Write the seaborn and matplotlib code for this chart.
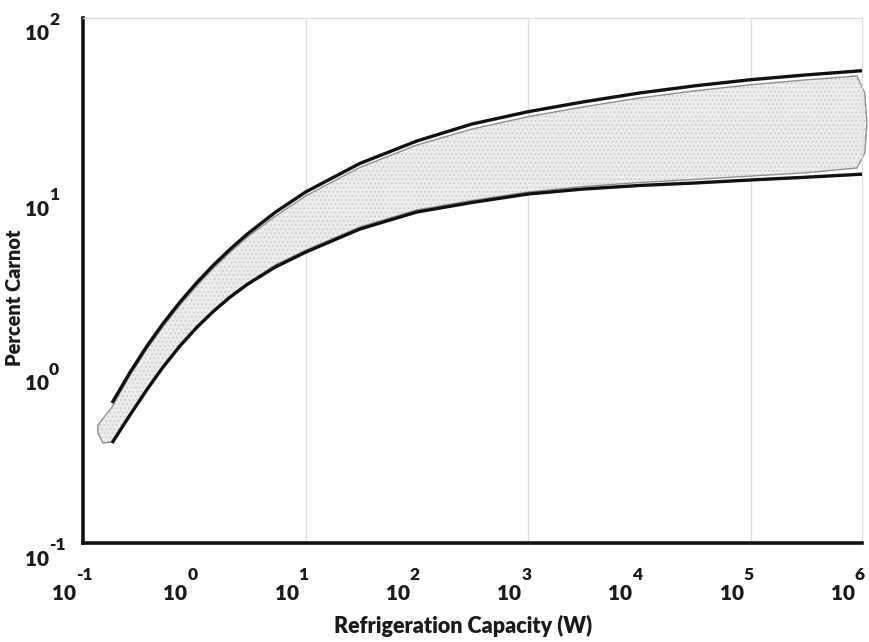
import numpy as np
import pandas as pd
import matplotlib
matplotlib.use("Agg")
import matplotlib.pyplot as plt
import seaborn as sns
from matplotlib.transforms import blended_transform_factory

# ---------------- data ----------------
curve_x = [0.1823, 0.2643, 0.3758, 0.5236, 0.7442, 1.058, 1.473, 2.094, 2.977, 5.31,
           10, 30.8, 100, 313, 1000, 3162, 1e4, 3.16e4, 1e5, 3.16e5, 1e6]
upper_y = [0.631, 0.944, 1.336, 1.794, 2.383, 3.084, 3.847, 4.768, 5.807, 7.737,
           10.13, 14.76, 19.82, 24.79, 29.15, 33.2, 37.27, 40.98, 44.41, 47.3, 49.99]
lower_y = [0.3727, 0.5387, 0.7534, 1.012, 1.338, 1.711, 2.097, 2.539, 2.997, 3.767,
           4.589, 6.228, 7.787, 8.826, 9.87, 10.54, 11.04, 11.41, 11.87, 12.31, 12.81]

band_x = [0.136, 0.1823, 0.2643, 0.3758, 0.5236, 0.7442, 1.058, 1.473, 2.094, 2.977, 5.31,
          10, 30.8, 100, 313, 1000, 3162, 1e4, 3.16e4, 1e5, 3.16e5, 9.0e5,
          1.06e6, 1.107e6, 1.06e6, 9.0e5,
          3.16e5, 1e5, 3.16e4, 1e4, 3162, 1000, 313, 100, 30.8, 10, 5.31, 2.977, 2.094, 1.473,
          1.058, 0.7442, 0.5236, 0.3758, 0.2643, 0.1823, 0.151, 0.136]
band_y = [0.472, 0.5986, 0.9073, 1.284, 1.725, 2.291, 2.965, 3.698, 4.583, 5.583, 7.339,
          9.614, 14.01, 18.8, 23.21, 27.29, 31.09, 34.9, 38.37, 41.57, 44.3, 46.63,
          37.3, 25.1, 16.9, 13.9,
          13.06, 12.5, 11.95, 11.48, 10.89, 10.13, 9.06, 8.0, 6.394, 4.711, 3.868, 3.036, 2.573,
          2.125, 1.734, 1.355, 1.025, 0.7636, 0.5459, 0.3777, 0.3727, 0.425]

x_ticks = [0.1, 1, 10, 100, 1e3, 1e4, 1e5, 1e6]
x_exponents = ["-1", "0", "1", "2", "3", "4", "5", "6"]
y_ticks = [0.1, 1, 10, 100]
y_exponents = ["-1", "0", "1", "2"]
grid_x = [10, 1e3, 1e5]

x_label = "Refrigeration Capacity (W)"
y_label = "Percent Carnot"

# ---------------- styling ----------------
sns.set_theme(style="white")
plt.rcParams["font.family"] = ["Lato", "DejaVu Sans"]
plt.rcParams["hatch.linewidth"] = 0.6

fig = plt.figure(figsize=(8.7, 6.42), dpi=100)
ax = fig.add_axes([83 / 870, 1 - 543 / 642, (862 - 83) / 870, (543 - 18) / 642])
ax.set_xscale("log")
ax.set_yscale("log")
ax.set_xlim(x_ticks[0], x_ticks[-1])
ax.set_ylim(y_ticks[0], y_ticks[-1])

# vertical gridlines
ax.vlines(grid_x, y_ticks[0], y_ticks[-1], colors="#dcdcdc", linewidth=0.9, zorder=0)

# shaded band
ax.fill(band_x, band_y, facecolor="#ececec", edgecolor="#c6c6c6", hatch="....",
        linewidth=0, zorder=1, clip_on=False)
ax.fill(band_x, band_y, facecolor="none", edgecolor="#8f8f8f", linewidth=1.0,
        zorder=2, clip_on=False)

# bounding lines
df = pd.DataFrame({"x": curve_x + curve_x,
                   "y": upper_y + lower_y,
                   "bound": ["upper"] * len(curve_x) + ["lower"] * len(curve_x)})
sns.lineplot(data=df, x="x", y="y", units="bound", color="#111111", linewidth=2.4,
             sort=False, estimator=None, ax=ax, zorder=3, legend=False)
for ln in ax.lines:
    ln.set_clip_on(False)
    ln.set_solid_capstyle("butt")
    ln.set_solid_joinstyle("round")

# spines
for s in ["left", "bottom"]:
    ax.spines[s].set_color("#111111")
    ax.spines[s].set_linewidth(2.6)
for s in ["top", "right"]:
    ax.spines[s].set_color("#dcdcdc")
    ax.spines[s].set_linewidth(0.9)

ax.tick_params(which="both", length=0, labelbottom=False, labelleft=False)
ax.minorticks_off()
ax.set_xticks(x_ticks)
ax.set_yticks(y_ticks)
ax.set_xlabel("")
ax.set_ylabel("")

# tick labels as 10 + raised exponent
tr_x = blended_transform_factory(ax.transData, ax.transAxes)
tr_y = blended_transform_factory(ax.transAxes, ax.transData)
txt_kw = dict(fontweight="heavy", color="#1a1a1a", textcoords="offset pixels", va="center")
for t, e in zip(x_ticks, x_exponents):
    ax.annotate("10", xy=(t, 0), xycoords=tr_x, xytext=(-7, -51), ha="right",
                fontsize=15, annotation_clip=False, **txt_kw)
    ax.annotate(e, xy=(t, 0), xycoords=tr_x, xytext=(-7, -32), ha="left",
                fontsize=12.5, annotation_clip=False, **txt_kw)
for t, e in zip(y_ticks, y_exponents):
    ax.annotate("10", xy=(0, t), xycoords=tr_y, xytext=(-34, -16), ha="right",
                fontsize=15, annotation_clip=False, **txt_kw)
    ax.annotate(e, xy=(0, t), xycoords=tr_y, xytext=(-34, -2), ha="left",
                fontsize=12.5, annotation_clip=False, **txt_kw)

fig.text(463 / 870, 1 - 626 / 642, x_label, ha="center", va="center",
         fontsize=15.5, fontweight="heavy", color="#1a1a1a")
fig.text(15 / 870, 1 - 298 / 642, y_label, ha="center", va="center", rotation=90,
         fontsize=14.3, fontweight="heavy", color="#1a1a1a")

fig.savefig("out.png", dpi=100, facecolor="white")
